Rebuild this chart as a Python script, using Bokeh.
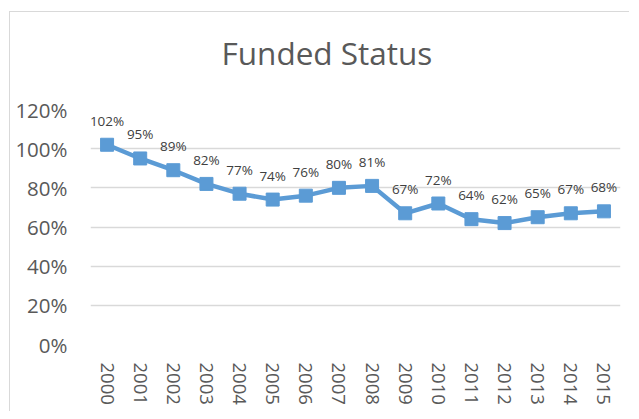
from bokeh.plotting import figure
from bokeh.models import ColumnDataSource, Range1d, FixedTicker, NumeralTickFormatter, Title
from bokeh.core.properties import value
from bokeh.embed import file_html
from bokeh.resources import INLINE

years = [str(y) for y in range(2000, 2016)]
funded = [1.02, 0.95, 0.89, 0.82, 0.77, 0.74, 0.76, 0.80, 0.81, 0.67, 0.72, 0.64, 0.62, 0.65, 0.67, 0.68]
labels = [f"{round(v*100)}%" for v in funded]
y_ticks = [0, 0.2, 0.4, 0.6, 0.8, 1.0, 1.2]
title_text = "Funded Status"

FONT = "Open Sans"
BLUE = "#5B9BD5"

src = ColumnDataSource(dict(x=years, y=funded, lab=labels))

p = figure(x_range=years, y_range=Range1d(0, 1.2), width=620, height=400,
           output_backend="svg", toolbar_location=None, title=title_text,
           min_border_left=80, min_border_right=10, min_border_top=97, min_border_bottom=68)
p.margin = (11, 0, 0, 9)
p.styles = {"border-left": "1px solid #D9D9D9", "border-top": "1px solid #D9D9D9"}
p.outline_line_color = None
p.background_fill_color = "white"
p.border_fill_color = "white"

p.title.align = "left"
p.title.text_font = FONT
p.title.text_font_size = "31.5px"
p.title.text_font_style = "normal"
p.title.text_color = "#595959"
p.title.standoff = 0
p.title.offset = 131

# empty spacer between the title and the plot area
p.add_layout(Title(text=" ", text_font_size="2px", standoff=32), "above")

p.xgrid.grid_line_color = None
p.ygrid.grid_line_color = "#D9D9D9"
p.ygrid.grid_line_width = 1.5
p.yaxis.ticker = FixedTicker(ticks=y_ticks)
p.yaxis.formatter = NumeralTickFormatter(format="0%")

for ax in (p.xaxis, p.yaxis):
    ax.axis_line_color = None
    ax.major_tick_line_color = None
    ax.minor_tick_line_color = None
    ax.major_tick_out = 0
    ax.major_tick_in = 0
    ax.major_label_text_color = "#595959"
    ax.major_label_text_font = FONT

p.yaxis.major_label_text_font_size = "20.5px"
p.yaxis.major_label_standoff = 23
p.xaxis.major_label_text_font_size = "18.5px"
p.xaxis.major_label_orientation = "vertical"
p.xaxis.major_label_standoff = 18

p.line("x", "y", source=src, line_color=BLUE, line_width=4.5)
p.scatter("x", "y", source=src, marker="square", size=13, fill_color=BLUE, line_color=BLUE)
p.text("x", "y", text="lab", source=src, text_align="center", text_baseline="alphabetic",
       y_offset=-24, text_font=value(FONT), text_font_size="13.5px", text_color="#404040")

open("out.html", "w").write(file_html(p, INLINE))
